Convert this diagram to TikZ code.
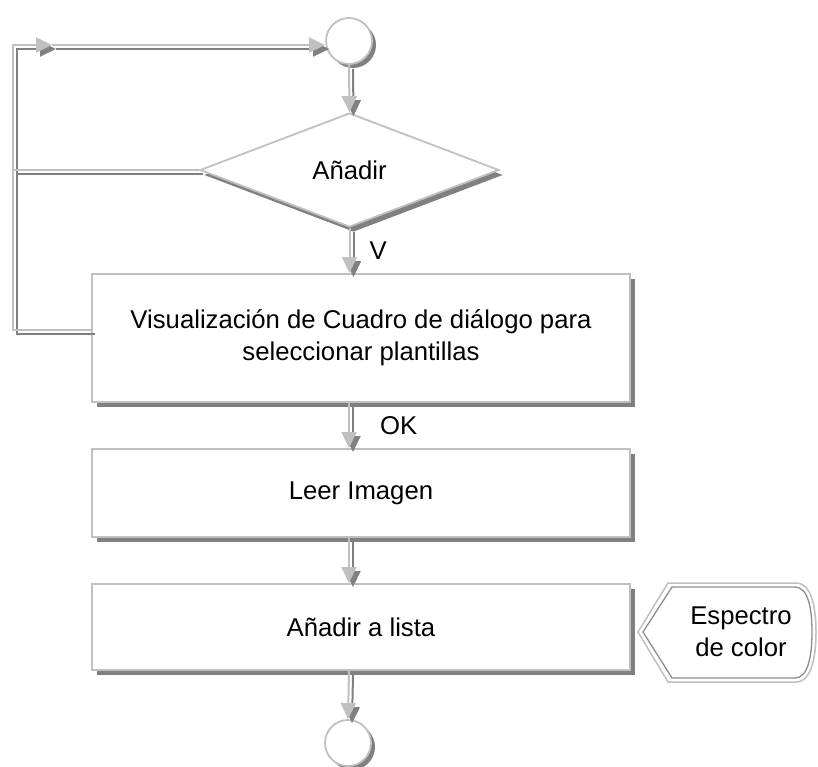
\documentclass[tikz,border=0pt]{standalone}
\usepackage{fontspec}
\setmainfont{Liberation Sans}
\usepackage{xcolor}
\usepackage{tikz}
\usetikzlibrary{shapes.geometric,arrows.meta,shadows,calc}
\definecolor{edgegray}{RGB}{192,192,192}
\definecolor{shadegray}{RGB}{128,128,128}
\tikzset{
  procbox/.style={rectangle, draw=edgegray, fill=white, line width=2pt,
    minimum width=538pt, align=center, inner sep=0pt,
    drop shadow={shadow xshift=5pt, shadow yshift=-5pt, fill=shadegray, opacity=1}},
  decisionbox/.style={diamond, draw=edgegray, fill=white, line width=1.8pt,
    minimum width=299pt, minimum height=114pt, inner sep=0pt,
    drop shadow={shadow xshift=4pt, shadow yshift=-5pt, fill=shadegray, opacity=1}},
  termcircle/.style={circle, draw=edgegray, fill=white, line width=1.8pt,
    minimum size=46pt, inner sep=0pt,
    drop shadow={shadow xshift=4pt, shadow yshift=-4pt, fill=shadegray, opacity=1}},
  flowline/.style={draw=edgegray, line width=2pt,
    preaction={draw=shadegray, line width=2pt, transform canvas={shift={(4pt,-4pt)}}}},
  flowarrow/.style={flowline, -{Triangle[length=16pt, width=15pt]}},
}

\begin{document}
\begin{tikzpicture}[x=1pt, y=-1pt,
    every node/.style={font=\fontsize{25.7}{32}\selectfont},
    edgelabel/.style={inner sep=0pt, anchor=west}]
  \useasboundingbox (0,0) rectangle (818,767);

  % Terminals
  \node[termcircle] (start) at (349,41) {};
  \node[termcircle] (stop) at (348,743) {};

  % Decision and process boxes
  \node[decisionbox] (dec) at (349.5,170) {Añadir};
  \node[procbox, minimum height=128pt] (vis) at (361,338)
    {Visualización de Cuadro de diálogo para\\seleccionar plantillas};
  \node[procbox, minimum height=88pt] (read) at (361,493) {Leer Imagen};
  \node[procbox, minimum height=86pt] (add) at (361,627) {Añadir a lista};

  % Display box (right of last step)
  \draw[edgegray, line width=1.5pt, fill=white] (638,632) -- (668,583) -- (796,583)
    .. controls (811,583) and (816,606) .. (816,632)
    .. controls (816,658) and (811,682) .. (796,682) -- (668,682) -- cycle;
  \draw[shadegray!90, line width=1.3pt] (643,632) -- (672,587) -- (795,587)
    .. controls (808,587) and (812,608) .. (812,632)
    .. controls (812,656) and (808,678) .. (795,678) -- (672,678) -- cycle;
  \node[align=center] (spec) at (741,632) {Espectro\\de color};

  % Loop back to start
  \coordinate (loopbot) at (13,330);
  \coordinate (looptop) at (13,45);
  \coordinate (loopmid) at (52,45);
  \draw[flowarrow] ([yshift=8pt]vis.west) -- (loopbot) -- (looptop) -- (loopmid);
  \draw[flowarrow] (loopmid) -- (loopmid -| start.west);
  \draw[flowline] (dec.west) -- (dec.west -| loopbot);

  % Main flow
  \draw[flowarrow] (start.south) -- (dec.north);
  \draw[flowarrow] (dec.south) -- node[edgelabel, xshift=19pt] {V} (dec.south |- vis.north);
  \draw[flowarrow] (vis.south -| start) -- node[edgelabel, xshift=30pt] {OK} (read.north -| start);
  \draw[flowarrow] (read.south -| start) -- (add.north -| start);
  \draw[flowarrow] (add.south -| start) -- (stop.north);

\end{tikzpicture}
\end{document}
